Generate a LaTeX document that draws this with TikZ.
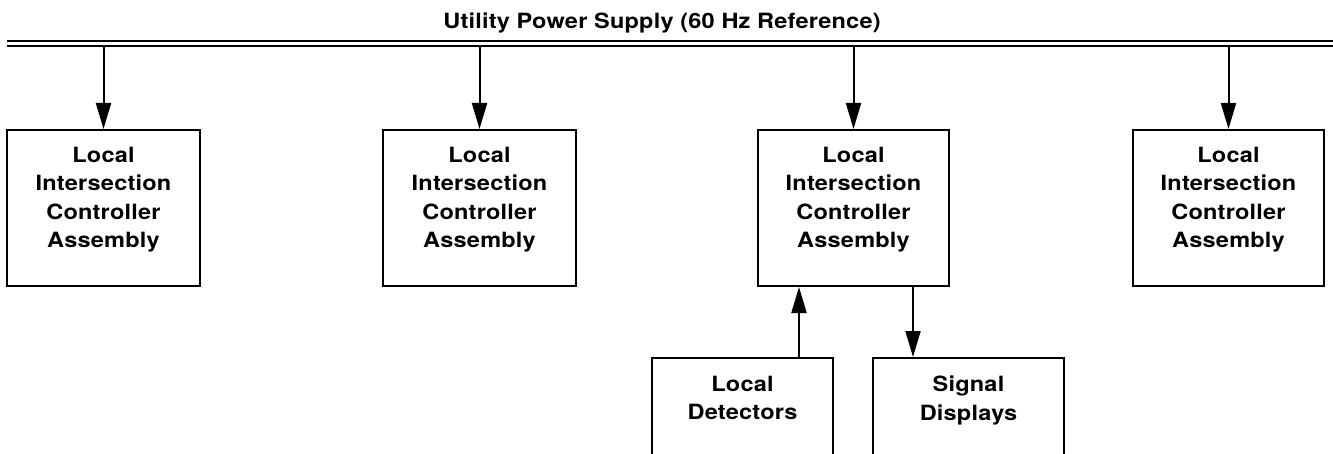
\documentclass[tikz,border=0pt]{standalone}
\usepackage{fontspec}
\newfontfamily\boxfont[FakeStretch=1.12,LetterSpace=1]{TeX Gyre Heros}
\newfontfamily\titlefont[FakeStretch=1.12,LetterSpace=1]{TeX Gyre Heros}
\usetikzlibrary{arrows.meta}
\begin{document}
\begin{tikzpicture}[x=1pt,y=-1pt,
  ctlbox/.style={draw,line width=2pt,minimum width=193pt,minimum height=156pt,inner sep=0pt},
  subbox/.style={draw,line width=2pt,minimum height=112pt,inner sep=0pt},
  boxtext/.style={font=\boxfont\bfseries\fontsize{21}{28.3}\selectfont,align=center,inner sep=0pt,anchor=north},
  arr/.style={line width=2pt,-{Triangle[length=26pt,width=15pt]}}]
\useasboundingbox (0,0) rectangle (1333,454);
\clip (0,0) rectangle (1333,454);
% title and bus
\node[font=\titlefont\bfseries\fontsize{21}{26}\selectfont,anchor=base,inner sep=0pt] (title) at (662,29) {Utility Power Supply (60 Hz Reference)};
\coordinate (busAL) at (7,41);
\coordinate (busAR) at (1333,41);
\coordinate (busBL) at (7,46);
\coordinate (busBR) at (1333,46);
\draw[line width=2.4pt] (busAL) -- (busAR);
\draw[line width=1.5pt] (busBL) -- (busBR);
% controller boxes
\node[ctlbox] (c1) at (103.5,208) {};
\node[ctlbox] (c2) at (479.5,208) {};
\node[ctlbox,minimum width=191pt] (c3) at (853.5,208) {};
\node[ctlbox,minimum width=191pt] (c4) at (1228.5,208) {};
\foreach \i in {1,2,3,4}{
  \node[boxtext] (t\i) at ([yshift=-18pt]c\i.north) {Local\\Intersection\\Controller\\Assembly};
  \draw[arr] (c\i.north |- busBL) -- (c\i.north);
}
% sub boxes
\node[subbox,minimum width=181pt] (det) at (742.5,414) {};
\node[subbox,minimum width=191pt] (sig) at (968.5,414) {};
\node[boxtext] (tdet) at ([yshift=-19pt]det.north) {Local\\Detectors};
\node[boxtext] (tsig) at ([yshift=-19pt]sig.north) {Signal\\Displays};
\coordinate (upx) at (799,0);
\coordinate (dnx) at (913,0);
\draw[arr] (det.north -| upx) -- (c3.south -| upx);
\draw[arr] (c3.south -| dnx) -- (sig.north -| dnx);
\end{tikzpicture}
\end{document}
